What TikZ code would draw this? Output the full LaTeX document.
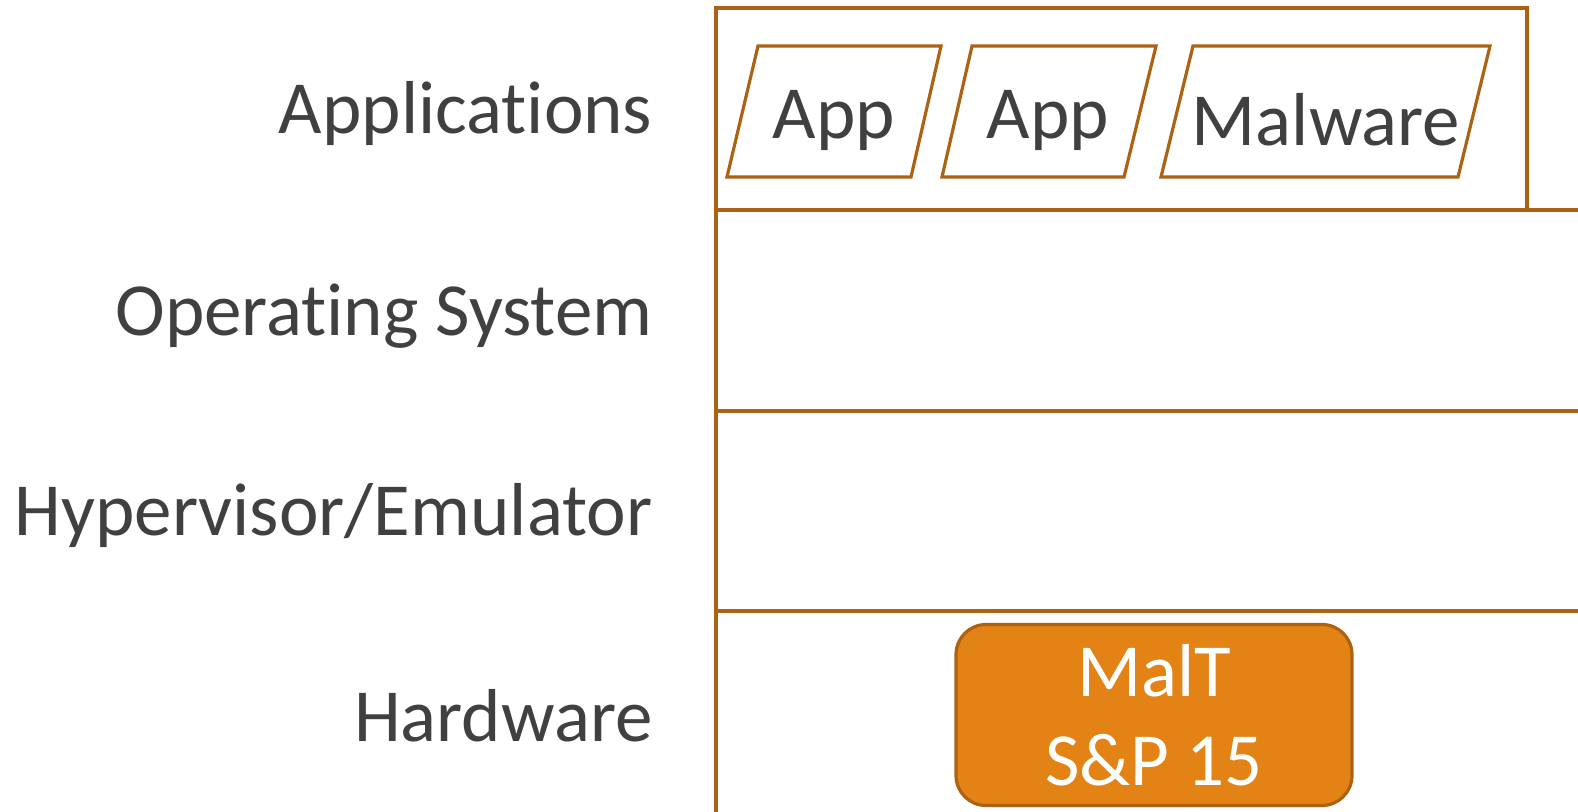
\documentclass[tikz,border=0pt]{standalone}
\usepackage{fontspec}
\setmainfont{Carlito}[Ligatures=NoCommon]
\usetikzlibrary{positioning,calc}
\definecolor{edgebrown}{RGB}{172,98,18}
\definecolor{maltorange}{RGB}{227,130,21}
\definecolor{labelgray}{RGB}{64,64,64}
\tikzset{
  every picture/.append style={line width=1.6pt},
  layerlabel/.style={anchor=east, text=labelgray, font=\fontsize{37.5}{45}\selectfont, inner sep=0pt},
  apptext/.style={text=labelgray, font=\fontsize{37.5}{45}\selectfont, inner sep=0pt},
  layerline/.style={draw=edgebrown},
}

\begin{document}
\begin{tikzpicture}[x=0.5pt, y=-0.5pt,
  maltbox/.style={draw=edgebrown, fill=maltorange, rounded corners=15pt, text=white,
    align=center, minimum width=198pt, minimum height=90.5pt, inner sep=0pt,
    font=\fontsize{37.5}{44.5}\selectfont}
]
\useasboundingbox (0,0) rectangle (1578,812);

% Layer labels on the left
\node[layerlabel] (lapps) at (654,114) {Applications};
\node[layerlabel] (los) at (654,316) {Operating System};
\node[layerlabel] (lhyp) at (654,516) {Hypervisor/Emulator};
\node[layerlabel] (lhw) at (654,716) {Hardware};

% Layers
\draw[layerline] (716,8) rectangle (1527,210);
\draw[layerline] (716,210) -- (1578,210);
\draw[layerline] (716,411) -- (1578,411);
\draw[layerline] (716,611) -- (1578,611);
\draw[layerline] (716,210) -- (716,812);

% Applications (slanted boxes)
\draw[layerline] (758,46) -- (941,46) -- (911,177) -- (727,177) -- cycle;
\node[apptext] (app1) at (834,120) {App};
\draw[layerline] (972,46) -- (1156,46) -- (1124,177) -- (942,177) -- cycle;
\node[apptext] (app2) at (1048,120) {App};
\draw[layerline] (1193,46) -- (1490,46) -- (1458,177) -- (1161,177) -- cycle;
\node[apptext] (malware) at (1326,120) {Malware};

% MalT in hardware
\node[maltbox] (malt) at (1154,715) {MalT\\S\&P 15};

\end{tikzpicture}
\end{document}
